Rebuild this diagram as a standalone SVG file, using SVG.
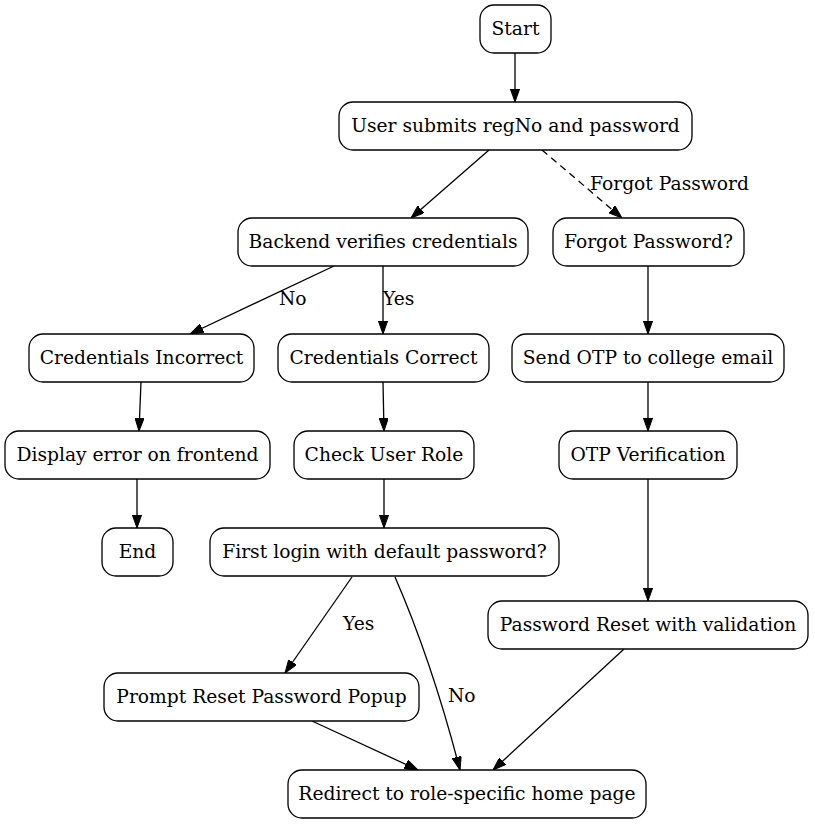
<svg xmlns="http://www.w3.org/2000/svg" width="815" height="824" viewBox="0 0 815 824">
<defs>
<style>
.n rect{fill:#fff;stroke:#000;stroke-width:1.3}
text{font-family:"DejaVu Serif","Liberation Serif",serif;font-size:18.7px;fill:#000}
.n text{text-anchor:middle}
.e path{fill:none;stroke:#000;stroke-width:1.3}
.dash{stroke-dasharray:7,5}
</style>
<marker id="a" markerUnits="userSpaceOnUse" viewBox="0 0 13.3 9.4" refX="13.3" refY="4.7" markerWidth="13.3" markerHeight="9.4" orient="auto">
<path d="M0,0 L13.3,4.7 L0,9.4 z" fill="#000" stroke="#000" stroke-width="1" stroke-dasharray="none"/>
</marker>
</defs>
<rect width="815" height="824" fill="#fff"/>
<g id="edges" class="e">
<path d="M515,53 L515,102" marker-end="url(#a)"/>
<path d="M489,150 L411,218" marker-end="url(#a)"/>
<path class="dash" d="M542,150 L622,218" marker-end="url(#a)"/>
<path d="M334,266 L190,334" marker-end="url(#a)"/>
<path d="M383,266 L383,334" marker-end="url(#a)"/>
<path d="M648,266 L648,334" marker-end="url(#a)"/>
<path d="M141,382 L139,431" marker-end="url(#a)"/>
<path d="M383,382 L384,431" marker-end="url(#a)"/>
<path d="M648,382 L648,431" marker-end="url(#a)"/>
<path d="M137,479 L137,528" marker-end="url(#a)"/>
<path d="M384,479 L384,528" marker-end="url(#a)"/>
<path d="M648,479 L648,601" marker-end="url(#a)"/>
<path d="M352,577 L285,673" marker-end="url(#a)"/>
<path d="M395,577 Q432,662 460,770" marker-end="url(#a)"/>
<path d="M312,721 L418,770" marker-end="url(#a)"/>
<path d="M624,649 L493,770" marker-end="url(#a)"/>
<text x="590" y="190">Forgot Password</text>
<text x="279" y="305">No</text>
<text x="383" y="305">Yes</text>
<text x="343" y="630">Yes</text>
<text x="448" y="702">No</text>
</g>
<g id="start" class="n"><rect x="480" y="5" width="71" height="48" rx="14"/><text x="515.5" y="35">Start</text></g>
<g id="submit" class="n"><rect x="339" y="102" width="353" height="48" rx="14"/><text x="515.5" y="132">User submits regNo and password</text></g>
<g id="verify" class="n"><rect x="238" y="218" width="290" height="48" rx="14"/><text x="383" y="248">Backend verifies credentials</text></g>
<g id="forgot" class="n"><rect x="553" y="218" width="191" height="48" rx="14"/><text x="648.5" y="248">Forgot Password?</text></g>
<g id="incorrect" class="n"><rect x="29" y="334" width="225" height="48" rx="14"/><text x="141.5" y="364">Credentials Incorrect</text></g>
<g id="correct" class="n"><rect x="278" y="334" width="211" height="48" rx="14"/><text x="383.5" y="364">Credentials Correct</text></g>
<g id="sendotp" class="n"><rect x="512" y="334" width="272" height="48" rx="14"/><text x="648" y="364">Send OTP to college email</text></g>
<g id="displayerr" class="n"><rect x="5" y="431" width="265" height="48" rx="14"/><text x="137.5" y="461">Display error on frontend</text></g>
<g id="checkrole" class="n"><rect x="294" y="431" width="180" height="48" rx="14"/><text x="384" y="461">Check User Role</text></g>
<g id="otpverify" class="n"><rect x="559" y="431" width="178" height="48" rx="14"/><text x="648" y="461">OTP Verification</text></g>
<g id="end" class="n"><rect x="102" y="528" width="71" height="48" rx="14"/><text x="137.5" y="558">End</text></g>
<g id="firstlogin" class="n"><rect x="210" y="528" width="349" height="48" rx="14"/><text x="384.5" y="558">First login with default password?</text></g>
<g id="pwreset" class="n"><rect x="488" y="601" width="320" height="48" rx="14"/><text x="648" y="631">Password Reset with validation</text></g>
<g id="prompt" class="n"><rect x="104" y="673" width="315" height="48" rx="14"/><text x="261.5" y="703">Prompt Reset Password Popup</text></g>
<g id="redirect" class="n"><rect x="288" y="770" width="358" height="48" rx="14"/><text x="467" y="800">Redirect to role-specific home page</text></g>
</svg>
